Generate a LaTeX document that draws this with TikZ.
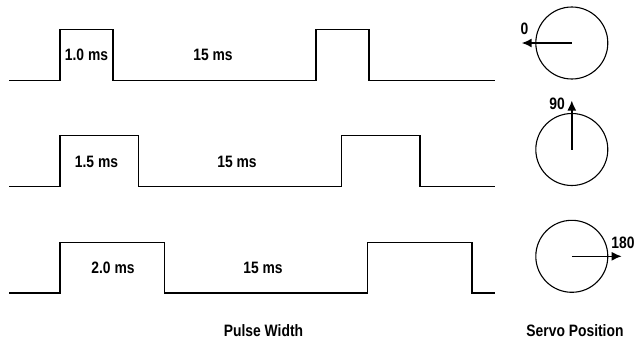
\documentclass[tikz,border=0pt]{standalone}
\usepackage{fontspec}
\setmainfont[FakeStretch=0.84]{Liberation Sans}
\usepackage{tikz}
\usetikzlibrary{arrows.meta}

\begin{document}
\begin{tikzpicture}[
  x=1pt, y=-1pt,
  every node/.style={font=\fontsize{16.5}{19}\selectfont\bfseries, inner sep=0pt},
  wave/.style={line width=1.2pt, line join=miter},
  dial/.style={circle, draw, line width=1.1pt, minimum size=72pt, inner sep=0pt},
  needle/.style={-{Latex[length=10pt, width=9pt]}, line width=1.6pt},
]
\useasboundingbox (0,0) rectangle (636,340);
% pulse trains
\draw[wave] (9,80.5) -- (60,80.5) -- (60,29.5) -- (113,29.5) -- (113,80.5)
  -- (316,80.5) -- (316,29.5) -- (369,29.5) -- (369,80.5) -- (495,80.5);
\draw[wave] (9,186.5) -- (60,186.5) -- (60,135.5) -- (138.5,135.5) -- (138.5,186.5)
  -- (341.5,186.5) -- (341.5,135.5) -- (420,135.5) -- (420,186.5) -- (495,186.5);
\draw[wave] (9,293) -- (60,293) -- (60,242.5) -- (164.5,242.5) -- (164.5,293)
  -- (367.5,293) -- (367.5,242.5) -- (472,242.5) -- (472,293) -- (495,293);
\node (w1) at (86.5,55) {1.0 ms};
\node (g1) at (213,55) {15 ms};
\node (w2) at (96.5,161.5) {1.5 ms};
\node (g2) at (237,161.5) {15 ms};
\node (w3) at (113,268) {2.0 ms};
\node (g3) at (263,268) {15 ms};
% servo dials
\node[dial] (s1) at (571.8,43) {};
\node[dial] (s2) at (571.8,149.5) {};
\node[dial] (s3) at (571.8,256.3) {};
\coordinate (p1) at (521.7,43);
\coordinate (p2) at (571.8,100.5);
\coordinate (p3) at (621.7,256.3);
\draw[needle] (s1.center) -- (p1);
\draw[needle] (s2.center) -- (p2);
\draw[needle] (s3.center) -- (p3);
\node (a1) at (524.5,28.5) {0};
\node (a2) at (557,104) {90};
\node (a3) at (623,242.5) {180};
% captions
\node (pw) at (263.5,330.5) {Pulse Width};
\node (sp) at (575,330.5) {Servo Position};
\end{tikzpicture}
\end{document}
